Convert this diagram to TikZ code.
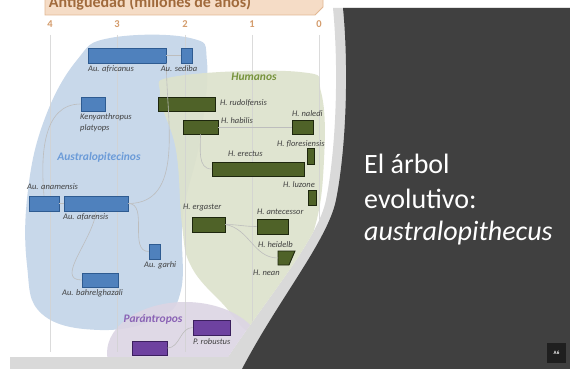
\documentclass[tikz,border=0pt]{standalone}
\usepackage{fontspec}
\setmainfont{Carlito}
\definecolor{darkc}{HTML}{404040}
\definecolor{bandc}{HTML}{D9D9D9}
\definecolor{bluereg}{HTML}{C8D8EA}
\definecolor{greenreg}{HTML}{DDE2CC}
\definecolor{purpreg}{HTML}{DCD5E4}
\definecolor{bblue}{HTML}{4F81BD}
\definecolor{bblueB}{HTML}{2E5B91}
\definecolor{ggreen}{HTML}{4F6228}
\definecolor{ggreenB}{HTML}{1D260D}
\definecolor{ppurp}{HTML}{6E42A0}
\definecolor{ppurpB}{HTML}{3B1F5E}
\definecolor{labgray}{HTML}{404040}
\definecolor{austc}{HTML}{6B9BD8}
\definecolor{humc}{HTML}{77933C}
\definecolor{parc}{HTML}{8A63B5}
\definecolor{gridc}{HTML}{D2D2D2}
\definecolor{branchc}{HTML}{BDBDBD}
\definecolor{axisc}{HTML}{D49C6C}
\definecolor{bannerc}{HTML}{F5DCC6}
\definecolor{bannerB}{HTML}{E2B893}
\definecolor{bannertext}{HTML}{A06A3C}
\definecolor{badgec}{HTML}{1F1F1F}
\begin{document}
\begin{tikzpicture}[x=1pt,y=-1pt,
  lab/.style={font=\fontsize{8.5}{9}\selectfont\itshape, text=labgray, inner sep=0pt, anchor=west},
  grp/.style={font=\fontsize{11.5}{12}\selectfont\bfseries\itshape, inner sep=0pt},
  bbox/.style={draw=bblueB, fill=bblue, line width=0.7pt, inner sep=0pt},
  gbox/.style={draw=ggreenB, fill=ggreen, line width=0.9pt, inner sep=0pt},
  pbox/.style={draw=ppurpB, fill=ppurp, line width=0.7pt, inner sep=0pt},
  branch/.style={draw=branchc, line width=0.6pt},
  gline/.style={draw=gridc, line width=0.7pt},
  axnum/.style={font=\fontsize{10.5}{11}\selectfont\bfseries, text=axisc, inner sep=0pt},
  title/.style={font=\fontsize{28}{30}\selectfont, text=white, inner sep=0pt, anchor=base west},
]
\useasboundingbox (0,0) rectangle (570,369);
\fill[white] (0,0) rectangle (570,369);
% light band and dark background
\fill[bandc] (333,8) .. controls (339,70) and (336,150) .. (326,200) .. controls (318,240) and (265,300) .. (220,369) -- (570,369) -- (570,8) -- cycle;
\fill[darkc] (343,8) .. controls (349,70) and (346,150) .. (336,200) .. controls (328,240) and (278,300) .. (242,369) -- (570,369) -- (570,8) -- cycle;

\begin{scope}
\clip (0,0) -- (333,0) -- (333,8) .. controls (339,70) and (336,150) .. (326,200) .. controls (318,240) and (265,300) .. (220,369) -- (0,369) -- cycle;
% banner
\fill[bannerc] (45,-2) -- (45,15) -- (315,15) -- (323,7) -- (323,-2) -- cycle;
\draw[bannerB, line width=0.8pt] (45,-2) -- (45,15) -- (315,15) -- (323,7) -- (323,-2);
\node[font=\fontsize{16}{16}\selectfont\bfseries, text=bannertext, anchor=base, inner sep=0pt] (ban) at (150,8) {Antigüedad (millones de años)};
% regions
\fill[bluereg] plot[smooth cycle, tension=0.7] coordinates {(77,60) (110,38) (190,38) (207,62) (200,140) (183,215) (181,290) (158,318) (100,330) (42,314) (27,265) (28,190) (45,118)};
\fill[greenreg, opacity=0.92] plot[smooth cycle, tension=0.7] coordinates {(160,95) (178,76) (300,72) (321,92) (324,160) (314,230) (286,290) (256,333) (222,303) (191,266) (182,225) (176,150)};
\fill[purpreg, opacity=0.9] (185,353) ellipse [x radius=78pt, y radius=51pt];
% grid lines
\foreach \gx in {50,117,185,252,319} \draw[gline, opacity=0.8] (\gx,35) -- (\gx,352);
% axis numbers
\node[axnum] (n4) at (50,24) {4};
\node[axnum] (n3) at (117,24) {3};
\node[axnum] (n2) at (185,24) {2};
\node[axnum] (n1) at (252,24) {1};
\node[axnum] (n0) at (319,24) {0};
% blue boxes
\node[bbox, minimum width=78pt, minimum height=15pt] (afr) at (127,55.5) {};
\node[bbox, minimum width=11pt, minimum height=15pt] (sed) at (186.5,55.5) {};
\node[bbox, minimum width=24pt, minimum height=14pt] (ken) at (93,104) {};
\node[bbox, minimum width=30pt, minimum height=15pt] (ana) at (44,203.5) {};
\node[bbox, minimum width=64pt, minimum height=15pt] (afa) at (96,203.5) {};
\node[bbox, minimum width=11pt, minimum height=15pt] (gar) at (154.5,251.5) {};
\node[bbox, minimum width=36pt, minimum height=14pt] (bah) at (100,280) {};
% green boxes
\node[gbox, minimum width=57pt, minimum height=14pt] (rud) at (186.5,104) {};
\node[gbox, minimum width=35pt, minimum height=14pt] (hab) at (200.5,127) {};
\node[gbox, minimum width=21pt, minimum height=14pt] (nal) at (302.5,127) {};
\node[gbox, minimum width=7pt, minimum height=16pt] (flo) at (310.5,156) {};
\node[gbox, minimum width=92pt, minimum height=14pt] (ere) at (258,169) {};
\node[gbox, minimum width=8pt, minimum height=15pt] (luz) at (312,197.5) {};
\node[gbox, minimum width=33pt, minimum height=15pt] (erg) at (208.5,224.5) {};
\node[gbox, minimum width=31pt, minimum height=15pt] (ant) at (272.5,226.5) {};
\coordinate (hei) at (278,258);
\filldraw[fill=ggreen, draw=ggreenB, line width=0.9pt] (278,251) -- (295,251) -- (289,265) -- (278,265) -- cycle;
% purple boxes
\node[pbox, minimum width=37pt, minimum height=15pt] (rob) at (211.5,327.5) {};
\node[pbox, minimum width=35pt, minimum height=14pt] (boi) at (149.5,348) {};
% branches
\draw[branch] (afr.east) -- (sed.west);
\draw[branch] (ana.east) -- (afa.west);
\draw[branch] (ana.north) to[out=95,in=180] (ken.west);
\draw[branch] (afa.east) to[out=0,in=180] (gar.west);
\draw[branch] (afa.east) to[out=0,in=-90] (afr.south east);
\draw[branch] (afa.south) to[out=-95,in=180] (bah.west);
\draw[branch] (hab.east) -- (nal.west);
\draw[branch] (hab.south) to[out=-90,in=180] (ere.west);
\draw[branch] (erg.east) to[out=0,in=180] (ant.west);
\draw[branch] (erg.east) to[out=-10,in=180] (hei);
\draw[branch] (rob.west) to[out=180,in=0] (boi.east);
% labels
\node[lab] (lafr) at (88,69) {Au. africanus};
\node[lab, anchor=center] (lsed) at (179,69) {Au. sediba};
\node[lab] (lken1) at (80,117) {Kenyanthropus};
\node[lab] (lken2) at (80,128) {platyops};
\node[lab] (lana) at (27,187) {Au. anamensis};
\node[lab] (lafa) at (63,217) {Au. afarensis};
\node[lab] (lgar) at (144,265) {Au. garhi};
\node[lab] (lbah) at (62,293) {Au. bahrelghazali};
\node[lab] (lrud) at (220,103) {H. rudolfensis};
\node[lab] (lhab) at (221,121) {H. habilis};
\node[lab] (lnal) at (292,114) {H. naledi};
\node[lab] (lflo) at (277,144) {H. floresiensis};
\node[lab] (lere) at (228,154) {H. erectus};
\node[lab] (lluz) at (283,185) {H. luzone};
\node[lab] (lerg) at (183,207) {H. ergaster};
\node[lab] (lant) at (257,212) {H. antecessor};
\node[lab] (lhei) at (258,245) {H. heidelb};
\node[lab] (lnea) at (253,273) {H. nean};
\node[lab] (lrob) at (193,342) {P. robustus};
\node[grp, text=austc] (gaus) at (99,157) {Australopitecinos};
\node[grp, text=humc] (ghum) at (254,77) {Humanos};
\node[grp, text=parc] (gpar) at (153,319) {Parántropos};
\end{scope}
% bottom strip
\fill[bandc] (10,357) -- (232,357) -- (224,369) -- (10,369) -- cycle;
% title
\node[title] (t1) at (364,173) {El árbol};
\node[title] (t2) at (364,208) {evolutivo:};
\node[title, font=\fontsize{28}{30}\selectfont\itshape] (t3) at (364,240.5) {australopithecus};
\node[fill=badgec, minimum width=19pt, minimum height=20pt, text=white, font=\fontsize{5}{5}\selectfont\bfseries, inner sep=0pt] (badge) at (556.5,353) {A6};
\end{tikzpicture}
\end{document}
